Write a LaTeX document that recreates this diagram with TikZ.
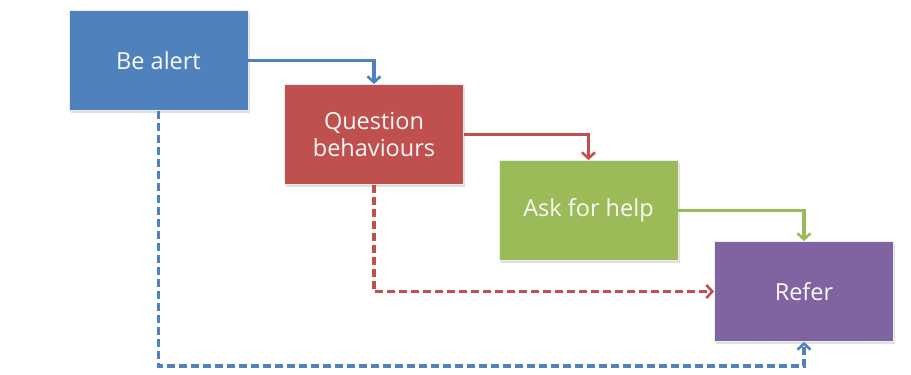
\documentclass[tikz,border=0pt]{standalone}
\usepackage{fontspec}
\setmainfont{Open Sans}
\usetikzlibrary{arrows.meta,shadows}
\definecolor{cblue}{HTML}{4F81BD}
\definecolor{cred}{HTML}{C0504D}
\definecolor{cgreen}{HTML}{9BBB59}
\definecolor{cpurple}{HTML}{8064A2}
\tikzset{
  box/.style={rectangle, draw=white!85!gray, line width=0.8pt, text=white!95!gray,
    minimum width=179pt, minimum height=100pt, align=center, inner sep=2pt,
    font=\fontsize{23.5}{27}\selectfont,
    drop shadow={shadow xshift=1.5pt, shadow yshift=-2pt, opacity=0.25, fill=gray}},
  conn/.style={line width=3.2pt, -{Straight Barb[length=6pt,width=13pt,line width=2.6pt]}},
  dconn/.style={conn, dash pattern=on 8pt off 4pt}
}
\begin{document}
\begin{tikzpicture}[x=1pt,y=-1pt]
\useasboundingbox (0,0) rectangle (911,375);
\node[box, fill=cblue] (A) at (158.5,60.5) {Be alert};
\node[box, fill=cred] (Q) at (374,134.5) {Question\\behaviours};
\node[box, fill=cgreen] (H) at (588.5,210.5) {Ask for help};
\node[box, fill=cpurple] (R) at (804,291.5) {Refer};
\coordinate (c) at (A.south |- 0,366);
\draw[conn, cblue] (A.east) -| (Q.north);
\draw[conn, cred] (Q.east) -| (H.north);
\draw[conn, cgreen] (H.east) -| (R.north);
\draw[dconn, cred] (Q.south) |- (R.west);
\draw[dconn, cblue] (A.south) -- (c) -| (R.south);
\end{tikzpicture}
\end{document}
